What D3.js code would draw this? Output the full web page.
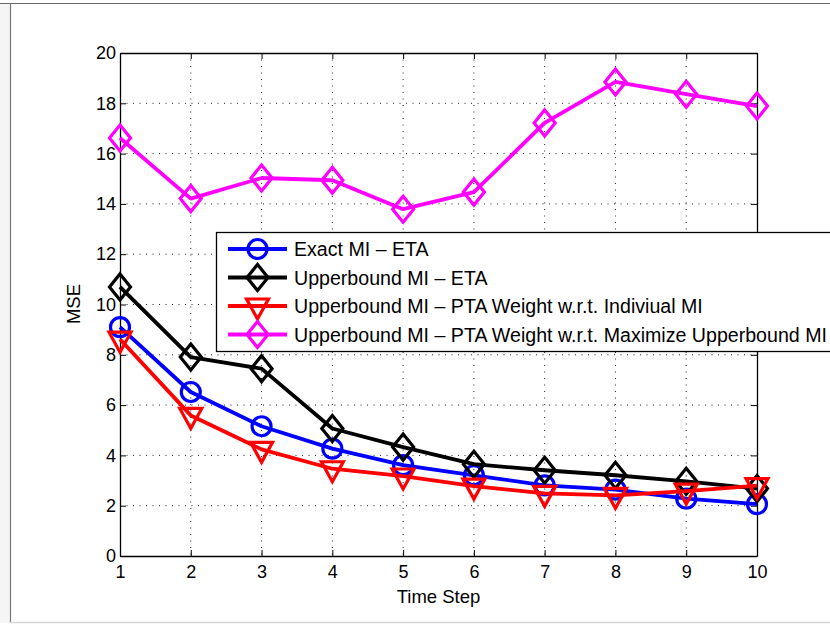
<!DOCTYPE html>
<html><head><meta charset="utf-8">
<script src="https://cdn.jsdelivr.net/npm/d3@7/dist/d3.min.js"></script>
<style>
html,body{margin:0;padding:0;background:#fff;}
svg{display:block;font-family:"Liberation Sans",Arial,Helvetica,sans-serif;}
</style></head>
<body>
<svg id="chart" width="830" height="625"></svg>
<script>
const timeSteps = [1,2,3,4,5,6,7,8,9,10];
const exactETA   = [9.10, 6.52, 5.16, 4.27, 3.61, 3.21, 2.81, 2.64, 2.28, 2.06];
const upperETA   = [10.70, 7.91, 7.45, 5.07, 4.33, 3.65, 3.41, 3.21, 2.97, 2.68];
const upperPTAInd = [8.62, 5.59, 4.24, 3.47, 3.18, 2.78, 2.49, 2.41, 2.58, 2.80];
const upperPTAMax = [16.62, 14.21, 15.03, 14.94, 13.79, 14.47, 17.22, 18.85, 18.36, 17.89];
const xTicks = [1,2,3,4,5,6,7,8,9,10];
const yTicks = [0,2,4,6,8,10,12,14,16,18,20];
const seriesNames = [
  "Exact MI \u2013 ETA",
  "Upperbound MI \u2013 ETA",
  "Upperbound MI \u2013 PTA Weight w.r.t. Indiviual MI",
  "Upperbound MI \u2013 PTA Weight w.r.t. Maximize Upperbound MI"
];
const seriesColors = ["#0000ff", "#000000", "#ff0000", "#ff00ff"];
const seriesMarkers = ["circle", "diamond", "triangle", "diamond"];
const seriesValues = [exactETA, upperETA, upperPTAInd, upperPTAMax];

const svg = d3.select("#chart");
const L = 120, R = 757, T = 53, B = 556;
const x = d3.scaleLinear().domain([1,10]).range([L,R]);
const y = d3.scaleLinear().domain([0,20]).range([B,T]);

// window frame
svg.append("rect").attr("x",0).attr("y",3).attr("width",10).attr("height",620).attr("fill","#f5f5f5");
svg.append("line").attr("x1",0).attr("x2",830).attr("y1",3.5).attr("y2",3.5).attr("stroke","#666").attr("stroke-width",1.2);
svg.append("line").attr("x1",10.5).attr("x2",10.5).attr("y1",3).attr("y2",623).attr("stroke","#777").attr("stroke-width",1.2);
svg.append("line").attr("x1",10).attr("x2",830).attr("y1",622.5).attr("y2",622.5).attr("stroke","#d8d8d8").attr("stroke-width",1.5);

// grid
const grid = svg.append("g").attr("stroke","#222").attr("stroke-width",1).attr("stroke-dasharray","1,5.5");
xTicks.slice(1,-1).forEach(t=>{
  grid.append("line").attr("x1",x(t)).attr("x2",x(t)).attr("y1",T).attr("y2",B);
});
yTicks.slice(1,-1).forEach(t=>{
  grid.append("line").attr("x1",L).attr("x2",R).attr("y1",y(t)).attr("y2",y(t));
});

// axes
const fs = 18;
const gx = svg.append("g").attr("transform",`translate(0,${B})`)
  .call(d3.axisBottom(x).tickValues(xTicks).tickFormat(d3.format("d")).tickSizeInner(-6).tickSizeOuter(0).tickPadding(9));
const gy = svg.append("g").attr("transform",`translate(${L},0)`)
  .call(d3.axisLeft(y).tickValues(yTicks).tickFormat(d3.format("d")).tickSizeInner(-6).tickSizeOuter(0).tickPadding(4));
const gt = svg.append("g").attr("transform",`translate(0,${T})`)
  .call(d3.axisTop(x).tickValues(xTicks).tickFormat("").tickSizeInner(-6).tickSizeOuter(0));
const gr = svg.append("g").attr("transform",`translate(${R},0)`)
  .call(d3.axisRight(y).tickValues(yTicks).tickFormat("").tickSizeInner(-6).tickSizeOuter(0));
[gx,gy,gt,gr].forEach(g=>{
  g.selectAll("path").attr("stroke","#000").attr("stroke-width",1.3);
  g.selectAll("line").attr("stroke","#000").attr("stroke-width",1);
  g.selectAll("text").attr("font-size",fs).attr("fill","#000").attr("font-family","Liberation Sans, Arial, sans-serif");
});

// axis labels
svg.append("text").attr("x",(L+R)/2).attr("y",603).attr("text-anchor","middle").attr("font-size",18.5).text("Time Step");
svg.append("text").attr("transform","translate(80,304) rotate(-90)").attr("text-anchor","middle").attr("font-size",18.5).text("MSE");

function marker(g, type, cx, cy, color){
  if(type==="circle"){
    g.append("circle").attr("cx",cx).attr("cy",cy).attr("r",9.5).attr("fill","none").attr("stroke",color).attr("stroke-width",3.2);
  } else if(type==="diamond"){
    g.append("path").attr("d",`M${cx},${cy-13}L${cx+10.5},${cy}L${cx},${cy+13}L${cx-10.5},${cy}Z`).attr("fill","none").attr("stroke",color).attr("stroke-width",3.2);
  } else {
    g.append("path").attr("d",`M${cx-11},${cy-7}L${cx+11},${cy-7}L${cx},${cy+13}Z`).attr("fill","none").attr("stroke",color).attr("stroke-width",3.2);
  }
}

const line = d3.line().x((d,i)=>x(timeSteps[i])).y(d=>y(d));
const plot = svg.append("g");
seriesValues.forEach((vals,s)=>{
  const g = plot.append("g");
  g.append("path").attr("d",line(vals)).attr("fill","none").attr("stroke",seriesColors[s]).attr("stroke-width",3.8).attr("stroke-linejoin","round");
  vals.forEach((v,i)=>marker(g, seriesMarkers[s], x(timeSteps[i]), y(v), seriesColors[s]));
});

// legend
const lg = svg.append("g");
const lgL = 216, lgT = 232, lgB = 351;
lg.append("rect").attr("x",lgL+0.5).attr("y",lgT+0.5).attr("width",830-lgL+5).attr("height",lgB-lgT).attr("fill","#fff").attr("stroke","#000").attr("stroke-width",1.3);
seriesNames.forEach((name,s)=>{
  const cy = 249 + s*28.5;
  lg.append("line").attr("x1",228).attr("x2",287).attr("y1",cy).attr("y2",cy).attr("stroke",seriesColors[s]).attr("stroke-width",3.8);
  marker(lg, seriesMarkers[s], 257.5, cy, seriesColors[s]);
  lg.append("text").attr("x",294).attr("y",cy).attr("dy","0.36em").attr("font-size",19.6).attr("fill","#000").text(name);
});
</script>
</body></html>
